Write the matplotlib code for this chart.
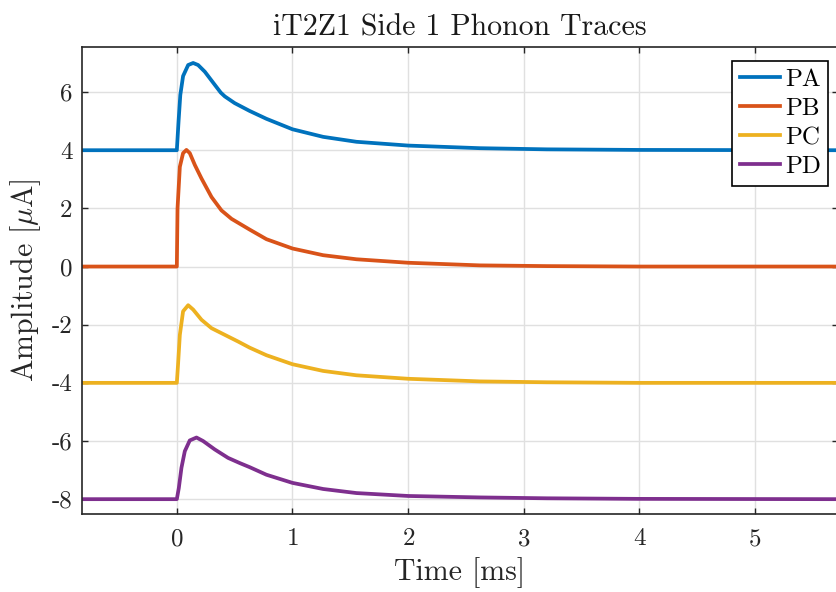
import matplotlib
matplotlib.use("Agg")
import matplotlib.pyplot as plt

plt.rcParams["font.family"] = "serif"
plt.rcParams["font.serif"] = ["cmr10"]
plt.rcParams["mathtext.fontset"] = "cm"
plt.rcParams["axes.formatter.use_mathtext"] = True

# traces (time in ms, amplitude in uA)
pa_t = [-0.82, 0.0, 0.015, 0.03, 0.054, 0.098, 0.141, 0.184, 0.242, 0.328, 0.38, 0.415, 0.50,
        0.63, 0.775, 1.0, 1.265, 1.553, 2.0, 2.62, 3.2, 4.0, 5.72]
pa_v = [4.0, 4.0, 5.0, 5.9, 6.55, 6.93, 7.0, 6.93, 6.70, 6.25, 5.98, 5.85, 5.62,
        5.35, 5.08, 4.72, 4.46, 4.29, 4.16, 4.07, 4.03, 4.01, 4.0]

pb_t = [-0.82, 0.0, 0.006, 0.026, 0.054, 0.083, 0.112, 0.156, 0.213, 0.30, 0.386, 0.473,
        0.545, 0.63, 0.775, 1.0, 1.265, 1.553, 2.0, 2.62, 3.2, 4.0, 5.72]
pb_v = [0.0, 0.0, 2.0, 3.43, 3.90, 4.01, 3.90, 3.49, 3.03, 2.39, 1.93, 1.64,
        1.47, 1.27, 0.94, 0.62, 0.39, 0.25, 0.13, 0.04, 0.015, 0.0, 0.0]

pc_t = [-0.82, 0.0, 0.01, 0.026, 0.054, 0.098, 0.141, 0.213, 0.30, 0.415, 0.53, 0.63,
        0.775, 1.0, 1.265, 1.553, 2.0, 2.62, 3.2, 4.0, 5.72]
pc_v = [-4.0, -4.0, -3.4, -2.35, -1.54, -1.33, -1.48, -1.83, -2.12, -2.35, -2.58, -2.79,
        -3.05, -3.36, -3.59, -3.74, -3.86, -3.95, -3.98, -4.0, -4.0]

pd_t = [-0.82, 0.0, 0.017, 0.04, 0.069, 0.112, 0.17, 0.227, 0.328, 0.443, 0.545, 0.63,
        0.775, 1.0, 1.265, 1.553, 2.0, 2.62, 3.2, 4.0, 5.72]
pd_v = [-8.0, -8.0, -7.62, -6.92, -6.35, -5.98, -5.88, -6.0, -6.29, -6.58, -6.76, -6.90,
        -7.16, -7.44, -7.65, -7.79, -7.89, -7.94, -7.97, -7.99, -8.0]

names = ["PA", "PB", "PC", "PD"]
colors = ["#0072BD", "#D95319", "#EDB120", "#7E2F8E"]

xticks = [0, 1, 2, 3, 4, 5]
yticks = [-8, -6, -4, -2, 0, 2, 4, 6]
ylabels = ["-8", "-6", "-4", "-2", "0", "2", "4", "6"]

fig = plt.figure(figsize=(8.37, 5.92), dpi=100)
ax = fig.add_axes([82 / 837, 78 / 592, 756 / 837, 467.3 / 592])

for t, v, c, n in zip([pa_t, pb_t, pc_t, pd_t], [pa_v, pb_v, pc_v, pd_v], colors, names):
    ax.plot(t, v, color=c, lw=2.7, label=n, solid_joinstyle="round")

ax.set_xlim(-0.82, 5.717)
ax.set_ylim(-8.51, 7.56)
ax.set_xticks(xticks)
ax.set_yticks(yticks)
ax.set_yticklabels(ylabels)
ax.grid(True, color="#e0e0e0", lw=1.0)
ax.set_axisbelow(True)
ax.tick_params(direction="in", length=4, width=1.0, colors="#262626", labelsize=18,
               top=True, right=True)
ax.tick_params(axis="x", pad=10)
ax.tick_params(axis="y", pad=7)
for s in ax.spines.values():
    s.set_color("#262626")
    s.set_linewidth(1.2)

ax.set_title("iT2Z1 Side 1 Phonon Traces", fontsize=21.5, color="#1a1a1a", pad=8)
ax.set_xlabel("Time [ms]", fontsize=21.5, color="#262626", labelpad=5)
ax.set_ylabel(r"Amplitude [$\mu$A]", fontsize=21.5, color="#262626", labelpad=6)

leg = ax.legend(loc="upper right", bbox_to_anchor=(0.987, 0.969), borderaxespad=0,
                fontsize=18, fancybox=False, framealpha=1, edgecolor="black",
                handlelength=1.6, handletextpad=0.2, labelspacing=0.26, borderpad=0.3)
leg.get_frame().set_linewidth(1.2)

fig.savefig("out.png", dpi=100)
